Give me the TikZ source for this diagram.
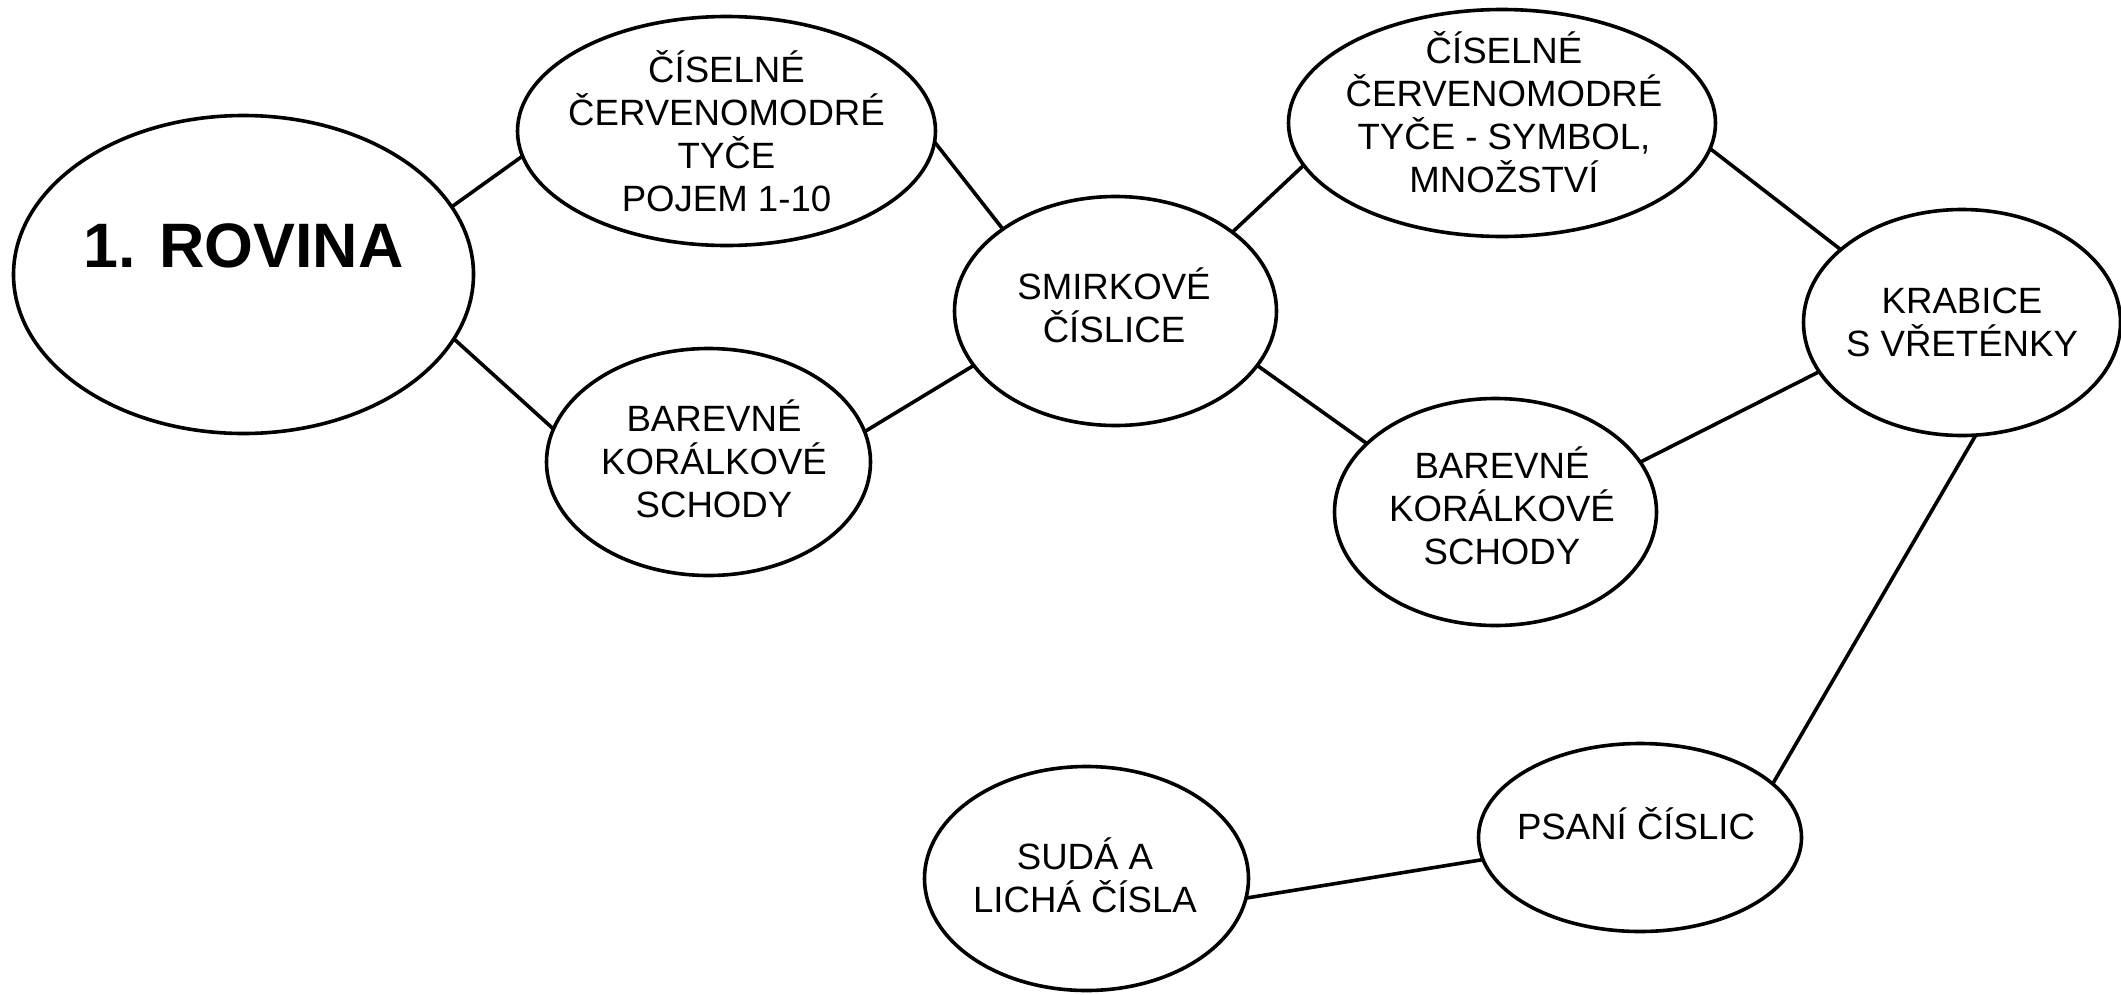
\documentclass[tikz,border=0pt]{standalone}
\usepackage{fontspec}
\setmainfont{Liberation Sans}
\usetikzlibrary{shapes.geometric}
\begin{document}
\begin{tikzpicture}[x=1pt,y=-1pt,
  ell/.style={ellipse, draw=black, line width=3.6pt, inner sep=0pt, outer sep=0pt, fill=white},
  txt/.style={inner sep=0pt, align=center, font=\fontsize{36.6}{43}\selectfont},
  lbl/.style={inner sep=0pt, anchor=base},
  conn/.style={line width=3.6pt}]
\useasboundingbox (0,0) rectangle (2121,994);
\fill[white] (0,0) rectangle (2121,994);
% ellipses
\node[ell, minimum width=460pt, minimum height=318pt] (e1) at (243.5,274.5) {};
\node[ell, minimum width=418pt, minimum height=229pt] (e2) at (726.5,131) {};
\node[ell, minimum width=324pt, minimum height=227pt] (e3) at (708.5,462) {};
\node[ell, minimum width=322pt, minimum height=229pt] (e4) at (1115.5,311) {};
\node[ell, minimum width=427pt, minimum height=227pt] (e5) at (1502,123) {};
\node[ell, minimum width=322pt, minimum height=227pt] (e6) at (1495.5,512) {};
\node[ell, minimum width=317pt, minimum height=226pt] (e7) at (1962,322.5) {};
\node[ell, minimum width=323pt, minimum height=188pt] (e8) at (1640,837.5) {};
\node[ell, minimum width=324pt, minimum height=224pt] (e9) at (1086.5,878.5) {};
% texts
\node[lbl, font=\bfseries\fontsize{62.8}{70}\selectfont] (t1) at (243.5,267) {1. ROVINA};
\node[txt] (t2) at (726.5,131) {ČÍSELNÉ\\ČERVENOMODRÉ\\TYČE\\POJEM 1-10};
\node[txt] (t3) at (714,459) {BAREVNÉ\\KORÁLKOVÉ\\SCHODY};
\node[txt] (t4) at (1114,305) {SMIRKOVÉ\\ČÍSLICE};
\node[txt] (t5) at (1504,112) {ČÍSELNÉ\\ČERVENOMODRÉ\\TYČE - SYMBOL,\\MNOŽSTVÍ};
\node[txt] (t6) at (1502,506) {BAREVNÉ\\KORÁLKOVÉ\\SCHODY};
\node[txt] (t7) at (1962,322.5) {KRABICE\\S VŘETÉNKY};
\node[lbl, font=\fontsize{36.6}{43}\selectfont] (t8) at (1636,839) {PSANÍ ČÍSLIC};
\node[txt] (t9) at (1085,875.5) {SUDÁ A\\LICHÁ ČÍSLA};
% connectors
\draw[conn] (e1.18.7) -- (e2.187.5);
\draw[conn] (e1.343.4) -- (e3.168.6);
\draw[conn] (e2.357.6) -- (e4.144.3);
\draw[conn] (e3.11.6) -- (e4.201.8);
\draw[conn] (e4.34.6) -- (e5.192.6);
\draw[conn] (e4.339.2) -- (e6.152.2);
\draw[conn] (e5.353.3) -- (e7.149.7);
\draw[conn] (e6.19.2) -- (e7.199);
\draw[conn] (e7.277.9) -- (e8.22.4);
\draw[conn] (e8.188.5) -- (e9.353.1);
\end{tikzpicture}
\end{document}
